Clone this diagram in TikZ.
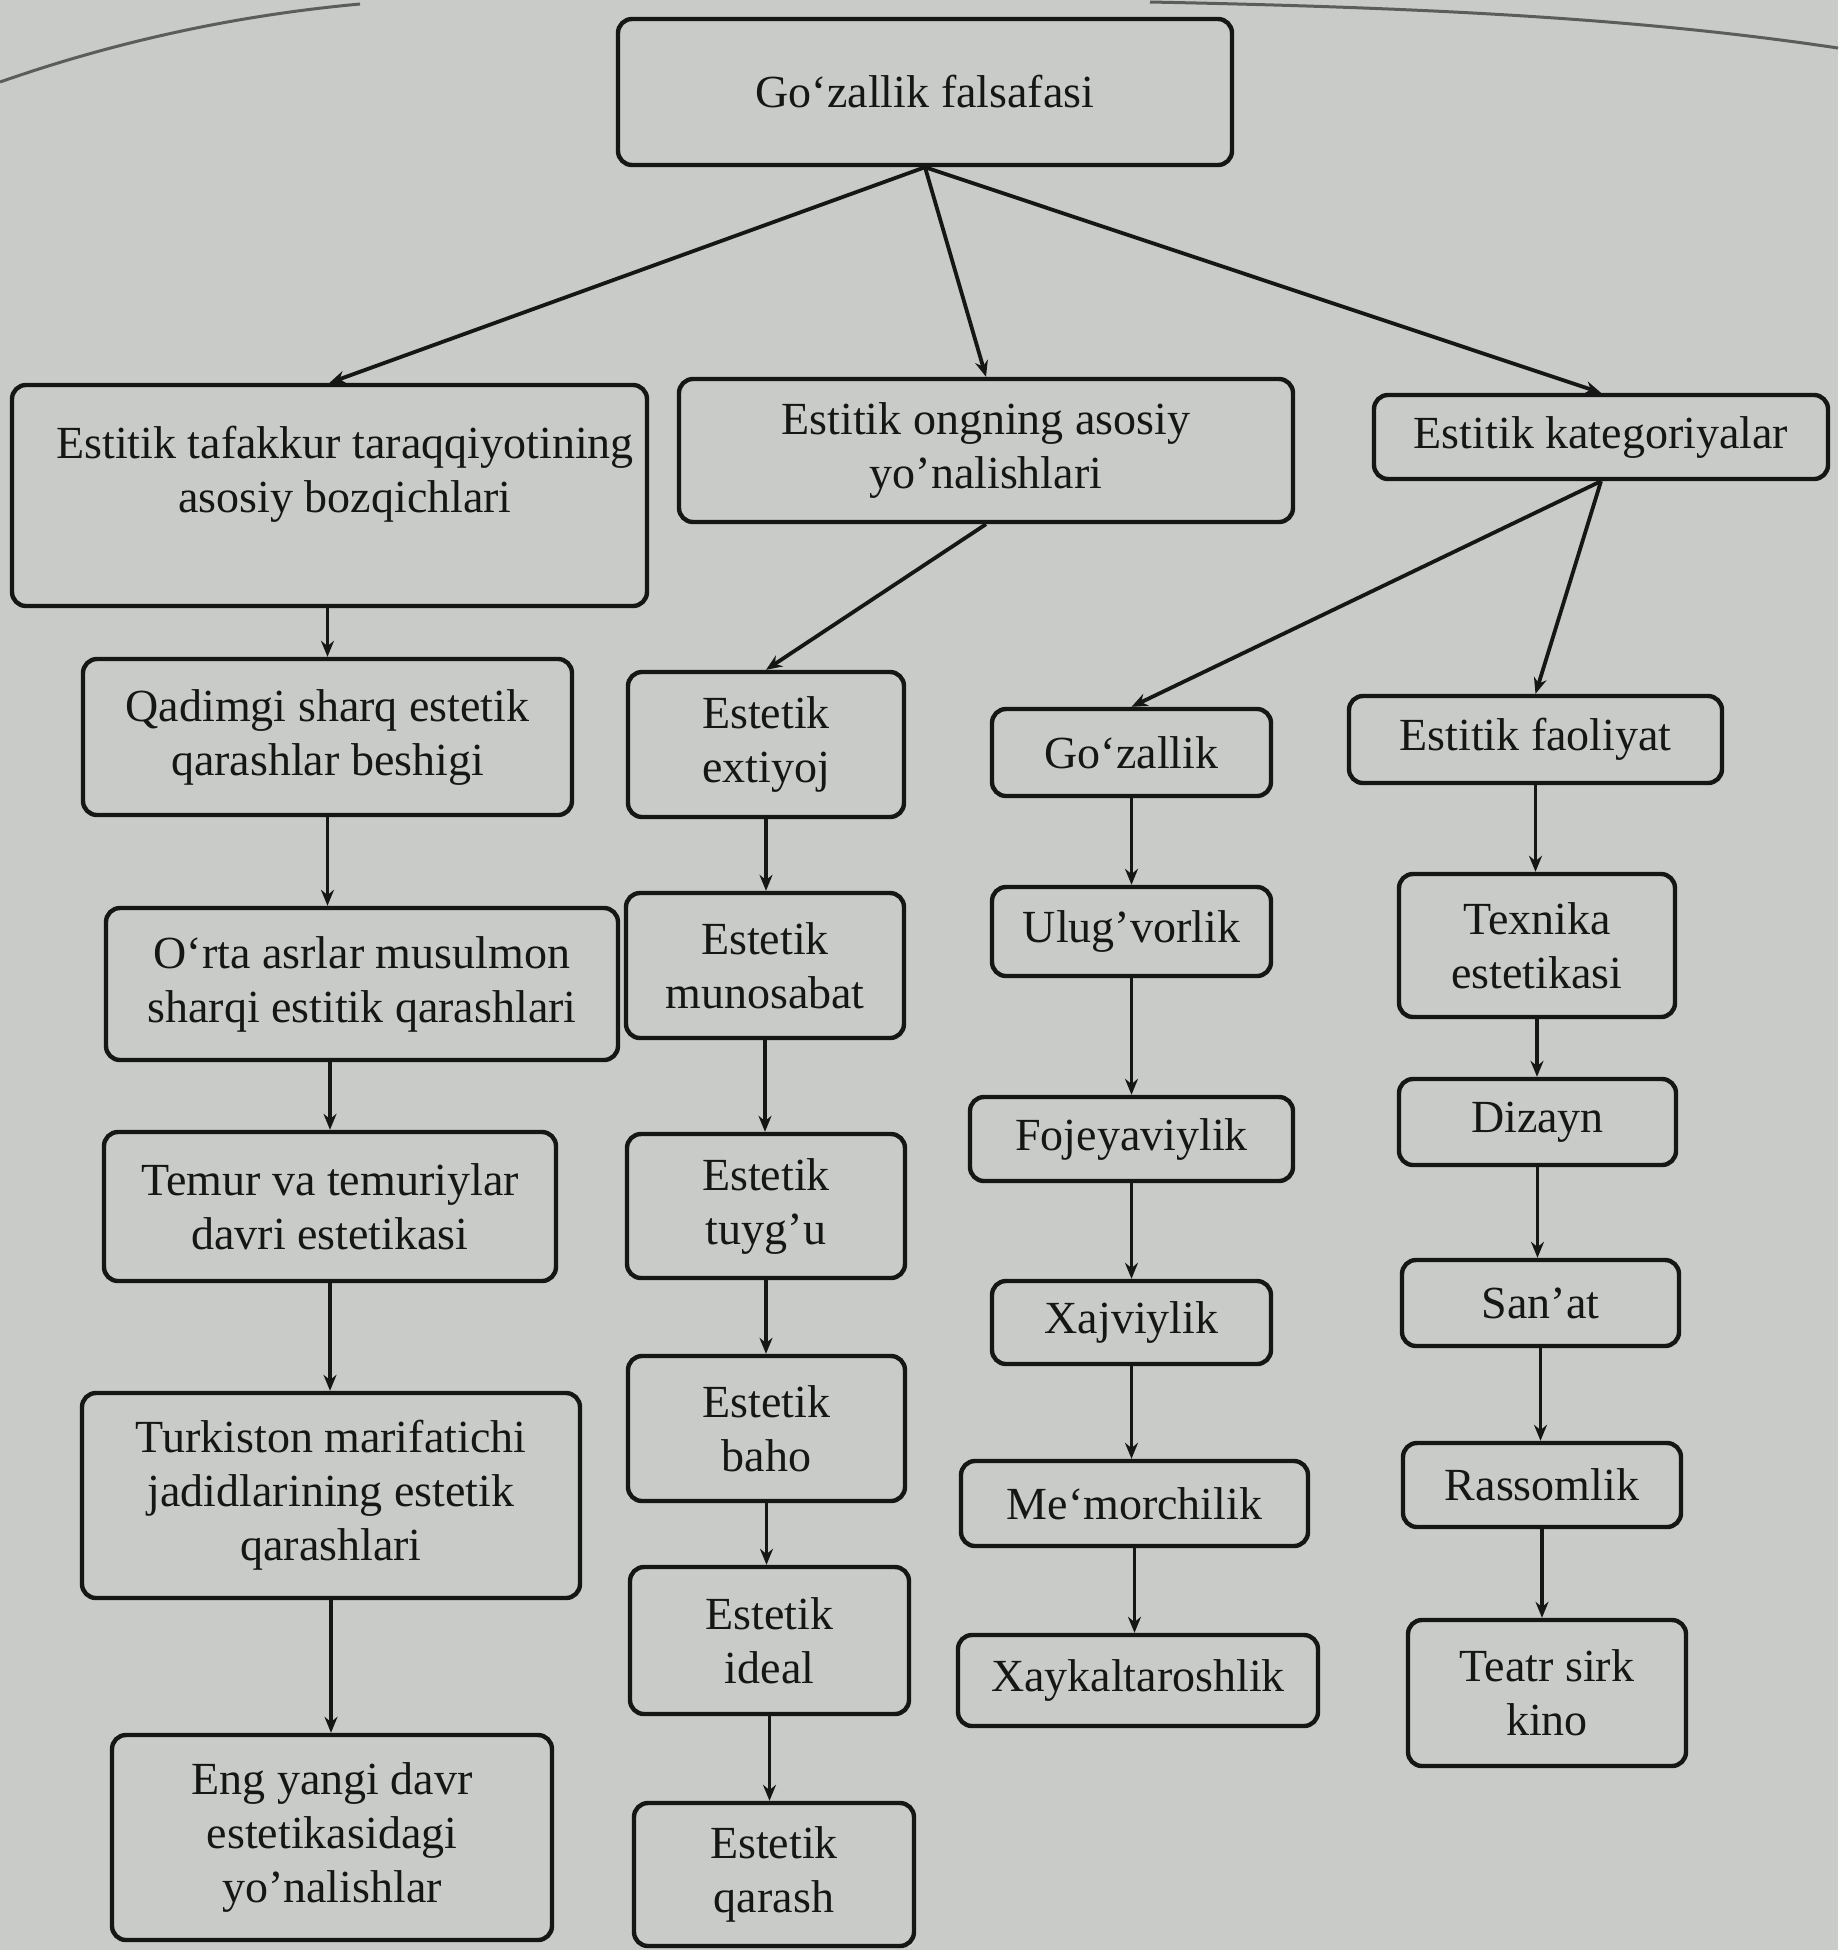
\documentclass[tikz,border=0pt]{standalone}
\usepackage{fontspec}
\setmainfont{Liberation Serif}
\usetikzlibrary{arrows.meta}
\definecolor{paper}{RGB}{201,203,200}
\definecolor{ink}{RGB}{22,22,22}
\begin{document}
\begin{tikzpicture}[x=0.5pt,y=-0.5pt,
  box/.style={draw=ink, line width=2.2pt, rounded corners=7pt, align=center, inner sep=0pt,
    text=ink, font=\fontsize{23}{27}\selectfont},
  lbl/.style={align=center, inner sep=0pt, text=ink, font=\fontsize{23}{27}\selectfont},
  arr/.style={draw=ink, line width=1.9pt, -{Stealth[length=8pt,width=6.5pt]}},
  edge/.style={draw=ink!70, line width=1.5pt}]
\fill[paper] (0,0) rectangle (1838,1950);
\useasboundingbox (0,0) rectangle (1838,1950);
% page edges
\draw[edge] (0,82) .. controls (120,40) and (240,15) .. (360,4);
\draw[edge] (1150,2) .. controls (1450,8) and (1650,20) .. (1838,48);
% top level
\node[box, minimum width=307pt, minimum height=73pt] (top) at (925,92) {Go‘zallik falsafasi};
\node[box, minimum width=317.5pt, minimum height=110.5pt] (b1) at (329.5,495.5) {};
\node[lbl] (b1t) at (345,474) {Estitik tafakkur taraqqiyotining\\asosiy bozqichlari};
\node[box, minimum width=307pt, minimum height=71.5pt] (b2) at (986,450.5) {Estitik ongning asosiy\\yo’nalishlari};
\node[box, minimum width=227pt, minimum height=42pt] (b3) at (1601,437) {Estitik kategoriyalar};
% left column
\node[box, minimum width=244.5pt, minimum height=78pt] (L1) at (327.5,737) {Qadimgi sharq estetik\\qarashlar beshigi};
\node[box, minimum width=256pt, minimum height=76pt] (L2) at (362,984) {O‘rta asrlar musulmon\\sharqi estitik qarashlari};
\node[box, minimum width=226pt, minimum height=74.5pt] (L3) at (330,1206.5) {Temur va temuriylar\\davri estetikasi};
\node[box, minimum width=249pt, minimum height=102.5pt] (L4) at (331,1495.5) {Turkiston marifatichi\\jadidlarining estetik\\qarashlari};
\node[box, minimum width=220pt, minimum height=102.5pt] (L5) at (332,1837.5) {Eng yangi davr\\estetikasidagi\\yo’nalishlar};
% second column
\node[box, minimum width=138pt, minimum height=72.5pt] (E1) at (766,744.5) {Estetik\\extiyoj};
\node[box, minimum width=139pt, minimum height=72.5pt] (E2) at (765,965.5) {Estetik\\munosabat};
\node[box, minimum width=139pt, minimum height=72pt] (E3) at (766,1206) {Estetik\\tuyg’u};
\node[box, minimum width=138.5pt, minimum height=72.5pt] (E4) at (766.5,1428.5) {Estetik\\baho};
\node[box, minimum width=139.5pt, minimum height=73.5pt] (E5) at (769.5,1640.5) {Estetik\\ideal};
\node[box, minimum width=140pt, minimum height=71.5pt] (E6) at (774,1874.5) {Estetik\\qarash};
% third column
\node[box, minimum width=139.5pt, minimum height=43.5pt] (C1) at (1131.5,752.5) {Go‘zallik};
\node[box, minimum width=139.5pt, minimum height=44.5pt] (C2) at (1131.5,931.5) {Ulug’vorlik};
\node[box, minimum width=161.5pt, minimum height=42pt] (C3) at (1131.5,1139) {Fojeyaviylik};
\node[box, minimum width=139.5pt, minimum height=41.5pt] (C4) at (1131.5,1322.5) {Xajviylik};
\node[box, minimum width=173.5pt, minimum height=42.5pt] (C5) at (1134.5,1503.5) {Me‘morchilik};
\node[box, minimum width=180pt, minimum height=45.5pt] (C6) at (1138,1680.5) {Xaykaltaroshlik};
% fourth column
\node[box, minimum width=186.5pt, minimum height=43.5pt] (F1) at (1535.5,739.5) {Estitik faoliyat};
\node[box, minimum width=138pt, minimum height=71.5pt] (F2) at (1537,945.5) {Texnika\\estetikasi};
\node[box, minimum width=138.5pt, minimum height=43pt] (F3) at (1537.5,1122) {Dizayn};
\node[box, minimum width=138.5pt, minimum height=43pt] (F4) at (1540.5,1303) {San’at};
\node[box, minimum width=139pt, minimum height=42pt] (F5) at (1542,1485) {Rassomlik};
\node[box, minimum width=139pt, minimum height=73pt] (F6) at (1547,1693) {Teatr sirk\\kino};
% connectors from top
\draw[arr] (top.south) -- (b1.north);
\draw[arr] (top.south) -- (b2.north);
\draw[arr] (top.south) -- (b3.north);
\draw[arr] (b2.south) -- (E1.north);
\draw[arr] (b3.south) -- (C1.north);
\draw[arr] (b3.south) -- (F1.north);
% left column
\draw[arr] (b1.south -| L1.north) -- (L1.north);
\draw[arr] (L1.south) -- (L1.south |- L2.north);
\draw[arr] (L3.north |- L2.south) -- (L3.north);
\draw[arr] (L3.south) -- (L3.south |- L4.north);
\draw[arr] (L4.south) -- (L4.south |- L5.north);
% second column
\draw[arr] (E1.south) -- (E1.south |- E2.north);
\draw[arr] (E2.south) -- (E2.south |- E3.north);
\draw[arr] (E3.south) -- (E3.south |- E4.north);
\draw[arr] (E4.south) -- (E4.south |- E5.north);
\draw[arr] (E5.south) -- (E5.south |- E6.north);
% third column
\draw[arr] (C1.south) -- (C2.north);
\draw[arr] (C2.south) -- (C3.north);
\draw[arr] (C3.south) -- (C3.south |- C4.north);
\draw[arr] (C4.south) -- (C4.south |- C5.north);
\draw[arr] (C5.south) -- (C5.south |- C6.north);
% fourth column
\draw[arr] (F1.south) -- (F1.south |- F2.north);
\draw[arr] (F2.south) -- (F2.south |- F3.north);
\draw[arr] (F3.south) -- (F3.south |- F4.north);
\draw[arr] (F4.south) -- (F4.south |- F5.north);
\draw[arr] (F5.south) -- (F5.south |- F6.north);
\end{tikzpicture}
\end{document}
